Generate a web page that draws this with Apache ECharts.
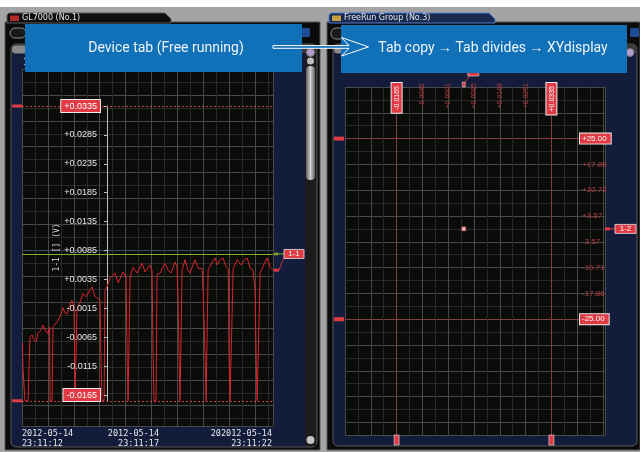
<!DOCTYPE html>
<html><head><meta charset="utf-8">
<script src="https://cdn.jsdelivr.net/npm/echarts@6/dist/echarts.min.js"></script>
<style>html,body{margin:0;padding:0;background:#fff;}#c{width:640px;height:452px;}</style>
</head><body><div id="c"></div>
<script>
// ---------------- data ----------------
// left chart: free-running waveform, seconds after 23:11:00
const timeSec = [10.96,10.98,11.03,11.07,11.21,11.25,11.29,11.38,11.47,11.56,11.65,11.78,11.87,12.00,12.09,12.16,12.18,12.27,12.31,12.49,
  12.62,12.75,12.84,12.93,13.06,13.15,13.24,13.29,13.33,13.37,13.51,13.64,13.77,13.95,14.04,14.17,14.26,14.39,14.44,14.48,
  14.57,14.61,14.70,14.83,15.05,15.19,15.41,15.54,15.59,15.63,15.67,15.72,15.85,16.03,16.25,16.38,16.60,16.69,16.74,16.78,
  16.87,16.91,17.05,17.27,17.40,17.53,17.71,17.80,17.84,17.89,17.93,17.98,18.02,18.15,18.28,18.37,18.59,18.73,18.90,18.95,
  19.04,19.08,19.13,19.17,19.35,19.48,19.57,19.70,19.83,19.97,20.06,20.10,20.14,20.19,20.28,20.46,20.63,20.81,20.90,21.03,
  21.16,21.25,21.29,21.34,21.38,21.47,21.69,21.78,21.91,22.04];
const voltage = [-0.0075,-0.0117,-0.0117,-0.0175,-0.0175,-0.0117,-0.0065,-0.0061,-0.0070,-0.0073,-0.0058,-0.0053,-0.0044,-0.0056,-0.0058,-0.0047,-0.0175,-0.0175,-0.0047,-0.0039,
  -0.0030,-0.0014,-0.0023,-0.0025,-0.0009,-0.0001,-0.0013,-0.0175,-0.0175,-0.0018,-0.0004,0.0011,0.0005,0.0017,0.0022,0.0005,0.0003,0.0000,-0.0120,-0.0175,
  -0.0175,0.0017,0.0022,0.0037,0.0046,0.0029,0.0048,0.0039,-0.0100,-0.0175,-0.0175,0.0039,0.0056,0.0046,0.0063,0.0048,0.0060,0.0050,-0.0101,-0.0175,
  -0.0175,0.0043,0.0046,0.0063,0.0051,0.0046,0.0065,0.0056,0.0003,-0.0104,-0.0175,-0.0175,0.0051,0.0069,0.0051,0.0046,0.0069,0.0054,0.0054,0.0013,
  -0.0104,-0.0175,-0.0175,0.0051,0.0065,0.0072,0.0060,0.0069,0.0072,0.0056,0.0054,-0.0104,-0.0175,-0.0175,0.0054,0.0069,0.0060,0.0070,0.0072,0.0054,
  0.0051,0.0013,-0.0092,-0.0175,-0.0175,0.0046,0.0065,0.0072,0.0056,0.0051];
const timeTickValues = [10.94, 17, 22];
const timeTickLabels = ['2012-05-14\n23:11:12', '2012-05-14\n23:11:17', '202012-05-14\n23:11:22'];
const voltTickValues = [0.0335,0.0285,0.0235,0.0185,0.0135,0.0085,0.0035,-0.0015,-0.0065,-0.0115,-0.0165];
const voltTickLabels = ['+0.0335','+0.0285','+0.0235','+0.0185','+0.0135','+0.0085','+0.0035','-0.0015','-0.0065','-0.0115','-0.0165'];
const voltBounds = [0.0335, -0.0175];
const alarmLevel = 0.0079;
const channelLeft = '1-1';
// right chart: XY display
const xyPoint = [[0.0052, 0.0]];
const xyXTickValues = [-0.0165,-0.00817,0.00017,0.0085,0.01683,0.02517,0.0335];
const xyXTickLabels = ['-0.0165','-0.0082','+0.0001','+0.0085','+0.0168','+0.0251','+0.0335'];
const xyYTickValues = [25,17.857,10.714,3.571,-3.571,-10.714,-17.857,-25];
const xyYTickLabels = ['+25.00','+17.86','+10.72','+3.57','-3.57','-10.71','-17.86','-25.00'];
const xyXBounds = [-0.0165, 0.0335];
const xyYBounds = [25, -25];
const channelRight = '1-2';

// ---------------- layout / style ----------------
const T_MIN = 10.94, T_MAX = 22.04;
const V_MIN = -0.0218633, V_MAX = 0.0399014;
const XY_XMIN = -0.0331667, XY_XMAX = 0.050813;
const XY_YMIN = -57.06, XY_YMAX = 39.2857;
const NAV = '#131d3b', RED = '#e03a44', MINOR = '#282a28', MAJOR = '#484a48';
const NARROW = "'Liberation Sans','Arimo',sans-serif";
const MONO = "'DejaVu Sans Mono','Liberation Mono',monospace";

function pick(values, labels, boxed) {
  return function (v) {
    let bi = 0, bd = Infinity;
    for (let i = 0; i < values.length; i++) { const d = Math.abs(values[i] - v); if (d < bd) { bd = d; bi = i; } }
    const s = labels[bi];
    if (!boxed) return s;
    return (bi === 0 || bi === values.length - 1) ? '{box|' + s + '}' : '{p|' + s + '}';
  };
}
function lineAxis(gridIndex, max, interval, color, inverse) {
  return { type: 'value', gridIndex, min: 0, max, interval, inverse: !!inverse, silent: true,
    axisLine: { show: false }, axisTick: { show: false }, axisLabel: { show: false },
    splitLine: { show: true, lineStyle: { color, width: 1 } } };
}
function boxStyle(fs, pad) {
  return { backgroundColor: RED, borderColor: '#ececec', borderWidth: 1, color: '#ffffff',
    padding: pad, fontFamily: NARROW, fontSize: fs };
}

const chart = echarts.init(document.getElementById('c'), null, { renderer: 'canvas', width: 640, height: 452 });

const option = {
  animation: false,
  backgroundColor: '#ffffff',
  grid: [
    { left: 22, top: 69, width: 251, height: 357, show: true, backgroundColor: '#0a0c09', borderWidth: 0, outerBoundsMode: 'none', containLabel: false },
    { left: 22, top: 69, width: 251, height: 357, outerBoundsMode: 'none', containLabel: false },
    { left: 107, top: 106, width: 1, height: 295, outerBoundsMode: 'none', containLabel: false },
    { left: 345, top: 87, width: 260, height: 348, show: true, backgroundColor: '#0a0c09', borderWidth: 0, outerBoundsMode: 'none', containLabel: false },
    { left: 345, top: 87, width: 260, height: 348, outerBoundsMode: 'none', containLabel: false }
  ],
  xAxis: [
    { gridIndex: 0, type: 'value', min: T_MIN, max: T_MAX, position: 'bottom', z: 10,
      axisLine: { show: false }, axisTick: { show: false }, splitLine: { show: false },
      axisLabel: { customValues: timeTickValues, formatter: pick(timeTickValues, timeTickLabels),
        align: 'right', alignMinLabel: 'left', alignMaxLabel: 'right', hideOverlap: false,
        color: '#e8e8e8', fontFamily: MONO, fontSize: 8.5, lineHeight: 10, margin: 3 } },
    lineAxis(1, 251 / 12.95, 1, MINOR),
    lineAxis(1, 251 / 12.95, 2, MAJOR),
    { gridIndex: 2, type: 'value', show: false },
    { gridIndex: 3, type: 'value', position: 'top', min: XY_XMIN, max: XY_XMAX, z: 10,
      axisLine: { show: false }, axisTick: { show: false }, splitLine: { show: false },
      axisLabel: { customValues: xyXTickValues, formatter: pick(xyXTickValues, xyXTickLabels, true),
        inside: true, rotate: 90, margin: -4, hideOverlap: false, color: '#bc3a44', fontFamily: NARROW, fontSize: 7,
        rich: { box: boxStyle(7, [2, 3, 1, 3]), p: { color: '#bc3a44', fontFamily: NARROW, fontSize: 7 } } } },
    lineAxis(4, 260 / 12.9, 1, MINOR),
    lineAxis(4, 260 / 12.9, 2, MAJOR)
  ],
  yAxis: [
    { gridIndex: 0, type: 'value', position: 'left', offset: -85, min: V_MIN, max: V_MAX, z: 10,
      name: '1-1 [] (V)', nameLocation: 'middle', nameGap: 46, nameRotate: 90, nameMoveOverlap: false,
      nameTextStyle: { color: '#d8d8d8', fontFamily: MONO, fontSize: 8 },
      axisLine: { show: false }, splitLine: { show: false },
      axisTick: { show: true, customValues: voltTickValues, length: 3, lineStyle: { color: '#bdbdbd' } },
      axisLabel: { customValues: voltTickValues, formatter: pick(voltTickValues, voltTickLabels, true),
        margin: 7, hideOverlap: false, color: '#e6e6e6', fontFamily: NARROW, fontSize: 9,
        rich: { box: boxStyle(9, [2, 3, 1, 3]), p: { color: '#e6e6e6', fontFamily: NARROW, fontSize: 9, padding: [0, 3, 0, 0] } } } },
    lineAxis(1, 357 / 12.95, 1, MINOR, true),
    lineAxis(1, 357 / 12.95, 2, MAJOR, true),
    { gridIndex: 2, type: 'value', min: 0, max: 1, axisLine: { show: true, lineStyle: { color: '#bdbdbd', width: 1 } },
      axisTick: { show: false }, axisLabel: { show: false }, splitLine: { show: false } },
    { gridIndex: 3, type: 'value', position: 'right', offset: -23, min: XY_YMIN, max: XY_YMAX, z: 10,
      axisLine: { show: false }, axisTick: { show: false }, splitLine: { show: false },
      axisLabel: { customValues: xyYTickValues, formatter: pick(xyYTickValues, xyYTickLabels, true),
        margin: -2, hideOverlap: false, color: '#bc3a44', fontFamily: NARROW, fontSize: 8,
        rich: { box: boxStyle(8, [1, 4, 1, 2]), p: { color: '#bc3a44', fontFamily: NARROW, fontSize: 8, padding: [0, 0, 0, 2] } } } },
    lineAxis(4, 348 / 12.9, 1, MINOR, true),
    lineAxis(4, 348 / 12.9, 2, MAJOR, true)
  ],
  series: [
    { type: 'line', xAxisIndex: 0, yAxisIndex: 0, data: timeSec.map((t, i) => [t, voltage[i]]),
      showSymbol: false, symbol: 'none', silent: true, clip: true,
      lineStyle: { color: '#d8242e', width: 1 },
      markLine: { silent: true, symbol: 'none', precision: 10, label: { show: false },
        data: [
          { yAxis: voltBounds[0], lineStyle: { color: '#d23a42', type: [2, 2], width: 1 } },
          { yAxis: voltBounds[1], lineStyle: { color: '#d23a42', type: [2, 2], width: 1 } },
          { yAxis: alarmLevel, lineStyle: { color: '#86ad34', type: 'solid', width: 1 } }
        ] } },
    { type: 'scatter', xAxisIndex: 4, yAxisIndex: 4, data: xyPoint, symbol: 'rect', symbolSize: 4, silent: true,
      itemStyle: { color: '#ffffff', borderColor: '#d03040', borderWidth: 1 },
      markLine: { silent: true, symbol: 'none', precision: 10, label: { show: false },
        lineStyle: { color: '#b8343c', type: [2, 2], width: 1 },
        data: [{ xAxis: xyXBounds[0] }, { xAxis: xyXBounds[1] }, { yAxis: xyYBounds[0] }, { yAxis: xyYBounds[1] }] } }
  ]
};
chart.setOption(option);

// ---------------- chrome + annotations ----------------
function txt(x, y, s, o) {
  return Object.assign({ type: 'text', x, y, z: o.z, style: { text: s, fill: o.fill || '#fff', fontSize: o.fs || 8,
    fontFamily: o.ff || "'DejaVu Sans',sans-serif", fontWeight: o.fw || 'normal',
    align: o.align || 'left', verticalAlign: 'middle', textAlign: o.align || 'left', textVerticalAlign: 'middle' } }, o.rot ? { rotation: o.rot } : {});
}
function rect(x, y, w, h, fill, z, extra) {
  return { type: 'rect', z, shape: Object.assign({ x, y, width: w, height: h }, extra && extra.r ? { r: extra.r } : {}),
    style: Object.assign({ fill }, extra && extra.stroke ? { stroke: extra.stroke, lineWidth: extra.lw || 1 } : {}) };
}
function seg(x1, y1, x2, y2, color, z) {
  return { type: 'line', z, shape: { x1, y1, x2, y2 }, style: { stroke: color, lineWidth: 1 } };
}
const CZ = -10, AZ = 50, OZ = 100;
const thumbGrad = { type: 'linear', x: 0, y: 0, x2: 1, y2: 0,
  colorStops: [{ offset: 0, color: '#5e5e5e' }, { offset: 0.5, color: '#cfcfcf' }, { offset: 1, color: '#5e5e5e' }] };
const chrome = [
  rect(0, 7, 640, 445, '#a4a4a4', CZ - 2),
  // left window
  rect(5, 22, 315, 428, '#0b0b0b', CZ - 1, { stroke: '#555' }),
  { type: 'polygon', z: CZ - 1, shape: { points: [[7, 23], [7, 15], [9, 13], [165, 13], [171, 19], [171, 23]] }, style: { fill: '#0e0e0e', stroke: '#5a5a5a', lineWidth: 1 } },
  rect(10, 15.5, 9, 5.5, '#b02828', CZ),
  txt(22, 18, 'GL7000 (No.1)', { z: CZ, fill: '#e6e6e6', fs: 8 }),
  rect(10, 28, 16, 10, '#1a1a1a', CZ, { r: 5, stroke: '#8a8a8a' }),
  rect(301, 28, 9, 9, '#1f4b92', CZ, { r: 1.5 }),
  rect(11, 44, 306, 403, NAV, CZ, { r: 5, stroke: '#5a5a5a' }),
  rect(11, 44, 306, 9, '#3a3a3a', CZ, { r: [5, 5, 0, 0] }),
  rect(12, 45.5, 15, 8, '#8a8a8a', CZ, { r: 4 }),
  rect(305, 53, 11, 393, '#1c1c1c', CZ),
  rect(306, 66, 9, 114, thumbGrad, CZ, { r: 4 }),
  { type: 'circle', z: CZ, shape: { cx: 310.5, cy: 52.5, r: 4 }, style: { fill: '#b49ccc', stroke: '#777' } },
  { type: 'circle', z: CZ, shape: { cx: 310.5, cy: 61, r: 3.5 }, style: { fill: '#bdbdbd' } },
  { type: 'circle', z: CZ, shape: { cx: 310.5, cy: 440, r: 4 }, style: { fill: '#c4c4c4' } },
  txt(23, 63, '1', { z: CZ, fill: '#dddddd', fs: 8 }),
  // right window
  rect(327, 22, 313, 428, '#0b0b0b', CZ - 1, { stroke: '#555' }),
  { type: 'polygon', z: CZ - 1, shape: { points: [[329, 23], [329, 15], [331, 13], [489, 13], [495, 19], [495, 23]] }, style: { fill: '#192a52', stroke: '#4f7fd0', lineWidth: 1 } },
  rect(332, 15.5, 9, 5.5, '#c8a040', CZ),
  txt(344, 18, 'FreeRun Group (No.3)', { z: CZ, fill: '#e6e6e6', fs: 8 }),
  rect(331, 28, 16, 11, '#1a1a1a', CZ, { r: 5, stroke: '#8a8a8a' }),
  rect(630, 28, 9, 9, '#1f4b92', CZ, { r: 1.5 }),
  rect(333, 44, 304, 402, NAV, CZ, { r: 5, stroke: '#5a5a5a' }),
  rect(333, 44, 304, 9, '#3a3a3a', CZ, { r: [5, 5, 0, 0] }),
  rect(334, 45.5, 12, 8, '#8a8a8a', CZ, { r: 4 }),
  { type: 'circle', z: CZ, shape: { cx: 630, cy: 52.5, r: 4 }, style: { fill: '#b49ccc', stroke: '#777' } },
  // callouts
  rect(25, 24, 277, 48, '#1070b8', OZ),
  txt(166, 48.5, 'Device tab (Free running)', { z: OZ + 1, fill: '#eef4fa', fs: 14, ff: "Roboto,'Liberation Sans',sans-serif", align: 'center' }),
  rect(341, 25, 286, 48, '#1070b8', OZ),
  txt(493, 48.5, 'Tab copy \u2192 Tab divides \u2192 XYdisplay', { z: OZ + 1, fill: '#eef4fa', fs: 14, ff: "Roboto,'Liberation Sans',sans-serif", align: 'center' }),
  { type: 'polygon', z: OZ + 2, shape: { points: [[273, 45.6], [349, 45.6], [341.5, 37.5], [368.5, 46.9], [341.5, 56], [349, 48.3], [273, 48.3]] },
    style: { fill: '#1070b8', stroke: '#ffffff', lineWidth: 1 } }
];

// data-tied annotations (positions through the chart's own scales)
const L = (x, y) => chart.convertToPixel({ xAxisIndex: 0, yAxisIndex: 0 }, [x, y]);
const R = (x, y) => chart.convertToPixel({ xAxisIndex: 4, yAxisIndex: 4 }, [x, y]);
const ann = [];
voltBounds.forEach(v => { const p = L(T_MIN, v); ann.push(rect(12, p[1] - 1.5, 10, 3, RED, AZ)); });
const yG = L(T_MAX, alarmLevel)[1];
const yLast = L(T_MAX, voltage[voltage.length - 1])[1];
ann.push(rect(274, yG - 1.3, 4.5, 2.6, '#7fa832', AZ));
ann.push(seg(278.5, yG, 284, yG, '#7fa832', AZ));
ann.push(rect(274, yLast - 1.5, 5, 3, RED, AZ));
ann.push(seg(279, yLast, 284, yG + 3, '#c03038', AZ));
ann.push(rect(284, yG - 4.5, 20, 9, RED, AZ, { stroke: '#e6e6e6', lw: 0.8 }));
ann.push(txt(294, yG, channelLeft, { z: AZ + 1, fill: '#ffffff', fs: 8, ff: NARROW, align: 'center' }));

xyYBounds.forEach(v => { const p = R(XY_XMIN, v); ann.push(rect(334, p[1] - 2, 10, 4, RED, AZ)); });
xyXBounds.forEach(v => { const p = R(v, XY_YMIN); ann.push(rect(p[0] - 2.5, 435, 5, 10, RED, AZ, { stroke: '#e6e6e6', lw: 0.6 })); });
const pt = R(xyPoint[0][0], xyPoint[0][1]);
ann.push(rect(605, pt[1] - 1.5, 5, 3, RED, AZ));
ann.push(seg(610, pt[1], 615, pt[1], RED, AZ));
ann.push(rect(615, pt[1] - 4.5, 21, 9, RED, AZ, { stroke: '#e6e6e6', lw: 0.8 }));
ann.push(txt(625.5, pt[1], channelRight, { z: AZ + 1, fill: '#ffffff', fs: 8, ff: NARROW, align: 'center' }));
ann.push(rect(pt[0] - 1.5, 82, 3, 5, RED, AZ, { stroke: '#e6e6e6', lw: 0.5 }));
ann.push(seg(pt[0] + 1.5, 82, pt[0] + 6, 76, '#c03038', AZ));
ann.push(rect(pt[0] + 4, 70, 11, 6, RED, AZ, { stroke: '#e6e6e6', lw: 0.6 }));

chart.setOption({ graphic: { elements: chrome.concat(ann) } });
</script>
</body></html>
